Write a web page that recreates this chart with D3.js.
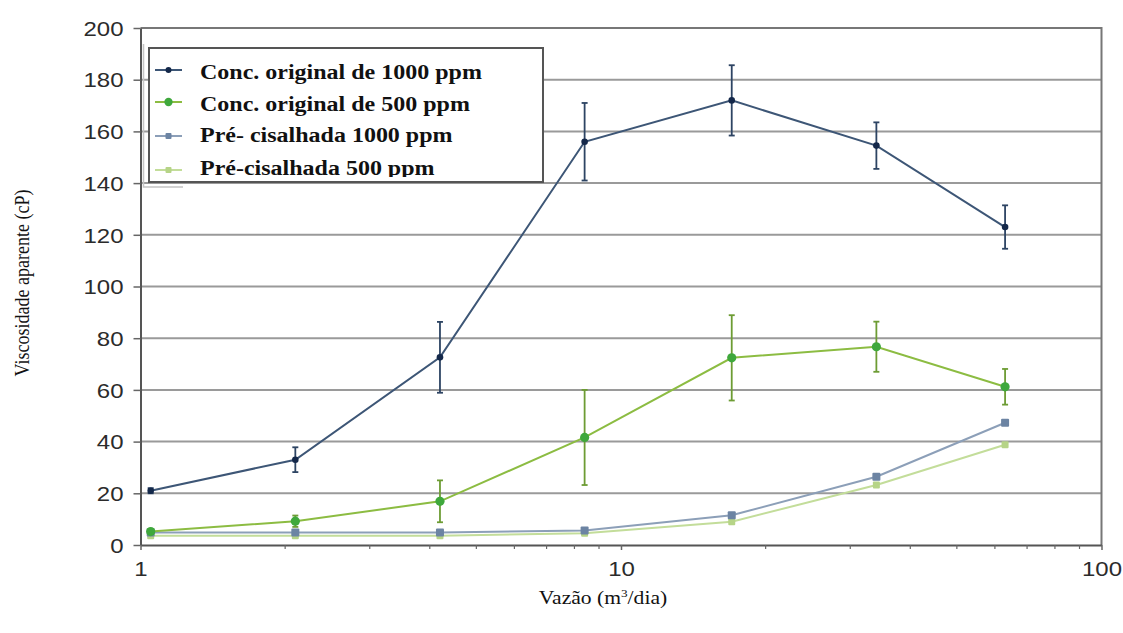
<!DOCTYPE html>
<html>
<head>
<meta charset="utf-8">
<script src="https://cdn.jsdelivr.net/npm/d3@7"></script>
<style>
  html, body { margin: 0; padding: 0; background: #fff; }
  svg { display: block; }
</style>
</head>
<body>
<svg id="chart" width="1123" height="633"></svg>
<script>
// ---- data ----
const flowRates = [1.05, 2.1, 4.2, 8.4, 17, 34, 63];
const orig1000 = [21, 33, 72.6, 156, 172, 154.5, 123];
const orig1000Err = [1, 4.8, 13.7, 15, 13.6, 9, 8.4];
const orig500 = [5.2, 9.2, 16.9, 41.6, 72.4, 76.7, 61.2];
const orig500Err = [1, 2.2, 8.1, 18.4, 16.5, 9.7, 6.9];
const pre1000 = [4.8, 4.8, 4.8, 5.6, 11.5, 26.4, 47.3];
const pre500 = [3.6, 3.6, 3.6, 4.5, 9, 23.2, 38.8];
const yTicks = [0, 20, 40, 60, 80, 100, 120, 140, 160, 180, 200];
const xTicks = [1, 10, 100];
const legendLabels = [
  "Conc. original de 1000 ppm",
  "Conc. original de 500 ppm",
  "Pré- cisalhada 1000 ppm",
  "Pré-cisalhada 500 ppm"
];
const yTitle = "Viscosidade aparente (cP)";

// ---- styles ----
const series = [
  { name: legendLabels[3], values: pre500, err: null, line: "#c3dd9a", mark: "#b6d487", shape: "square", size: 7 },
  { name: legendLabels[2], values: pre1000, err: null, line: "#8c9fb8", mark: "#6c84a3", shape: "square", size: 8 },
  { name: legendLabels[1], values: orig500, err: orig500Err, line: "#8cbc42", mark: "#3fa83c", errColor: "#6d9c34", shape: "circle", size: 4.6 },
  { name: legendLabels[0], values: orig1000, err: orig1000Err, line: "#3d5676", mark: "#14284a", errColor: "#2d4463", shape: "circle", size: 3.3 }
];

const svg = d3.select("#chart");
const SX = 1.2; // horizontal stretch of the reference text

const x = d3.scaleLog().domain([1, 100]).range([140.5, 1101.5]);
const y = d3.scaleLinear().domain([0, 200]).range([545, 28]);

// gridlines
svg.append("g").selectAll("line").data(yTicks.filter(d => d > 0 && d < 200)).join("line")
  .attr("x1", x(1)).attr("x2", x(100))
  .attr("y1", d => y(d)).attr("y2", d => y(d))
  .attr("stroke", "#9a9a9a").attr("stroke-width", 2);

// frame top & right
svg.append("path")
  .attr("d", `M${x(1)},${y(200)}H${x(100)}V${y(0)}`)
  .attr("fill", "none").attr("stroke", "#777").attr("stroke-width", 2);

// y axis
const yAxis = svg.append("g").attr("transform", `translate(${x(1)},0)`)
  .call(d3.axisLeft(y).tickValues(yTicks).tickSize(7).tickSizeOuter(0).tickPadding(10));
yAxis.select(".domain").attr("stroke", "#555").attr("stroke-width", 2);
yAxis.selectAll(".tick line").attr("stroke", "#666").attr("stroke-width", 1.5);
yAxis.selectAll(".tick text")
  .attr("font-family", "Liberation Sans, Arial, sans-serif")
  .attr("font-size", 20).attr("fill", "#2b2b2b")
  .attr("x", -17 / SX).attr("dy", "0.36em")
  .attr("transform", `scale(${SX},1)`);

// x axis (major)
const xAxis = svg.append("g").attr("transform", `translate(0,${y(0)})`)
  .call(d3.axisBottom(x).tickValues(xTicks).tickFormat(d3.format("d")).tickSize(5).tickSizeOuter(0));
xAxis.select(".domain").attr("stroke", "#555").attr("stroke-width", 2);
xAxis.selectAll(".tick line").attr("stroke", "#666").attr("stroke-width", 1.5);
xAxis.selectAll(".tick text")
  .attr("font-family", "Liberation Sans, Arial, sans-serif")
  .attr("font-size", 20).attr("fill", "#2b2b2b")
  .attr("y", 17).attr("transform", `scale(${SX},1)`);

// x minor ticks
const minor = [];
[1, 10].forEach(dec => { for (let k = 2; k <= 9; k++) minor.push(dec * k); });
svg.append("g").selectAll("line").data(minor).join("line")
  .attr("x1", d => x(d)).attr("x2", d => x(d))
  .attr("y1", y(0)).attr("y2", y(0) + 4)
  .attr("stroke", "#666").attr("stroke-width", 1.2);

// series
const line = d3.line().x((d, i) => x(flowRates[i])).y(d => y(d));
series.forEach(s => {
  const g = svg.append("g");
  g.append("path").datum(s.values).attr("d", line)
    .attr("fill", "none").attr("stroke", s.line).attr("stroke-width", 2);
  if (s.err) {
    const eg = g.append("g").attr("stroke", s.errColor).attr("stroke-width", 1.8);
    s.values.forEach((v, i) => {
      const cx = x(flowRates[i]);
      const top = y(v + s.err[i]), bot = y(v - s.err[i]);
      eg.append("line").attr("x1", cx).attr("x2", cx).attr("y1", top).attr("y2", bot);
      eg.append("line").attr("x1", cx - 3).attr("x2", cx + 3).attr("y1", top).attr("y2", top);
      eg.append("line").attr("x1", cx - 3).attr("x2", cx + 3).attr("y1", bot).attr("y2", bot);
    });
  }
  drawMarks(g, s, s.values.map((v, i) => [x(flowRates[i]), y(v)]));
});

function drawMarks(g, s, pts) {
  if (s.shape === "square") {
    g.selectAll(null).data(pts).join("rect")
      .attr("x", d => d[0] - s.size / 2).attr("y", d => d[1] - s.size / 2)
      .attr("width", s.size).attr("height", s.size).attr("rx", 1)
      .attr("fill", s.mark);
  } else {
    g.selectAll(null).data(pts).join("circle")
      .attr("cx", d => d[0]).attr("cy", d => d[1]).attr("r", s.size)
      .attr("fill", s.mark);
  }
}

// legend
const leg = svg.append("g");
leg.append("path").attr("d", "M143.5,44V187H183")
  .attr("fill", "none").attr("stroke", "#c4c4c4").attr("stroke-width", 1.5);
leg.append("rect").attr("x", 149).attr("y", 48).attr("width", 394).attr("height", 134)
  .attr("fill", "#fff").attr("stroke", "#555").attr("stroke-width", 2);
svg.append("defs").append("clipPath").attr("id", "legclip")
  .append("rect").attr("x", 150).attr("y", 49).attr("width", 392).attr("height", 128);
const legItems = leg.append("g").attr("clip-path", "url(#legclip)");
const legOrder = [series[3], series[2], series[1], series[0]];
const rowMarkY = [70, 102, 136, 170];
const rowTextY = [79, 111, 142, 175];
legOrder.forEach((s, i) => {
  const my = rowMarkY[i];
  legItems.append("line").attr("x1", 155).attr("x2", 182).attr("y1", my).attr("y2", my)
    .attr("stroke", s.line).attr("stroke-width", 2);
  drawMarks(legItems, Object.assign({}, s, { size: s.shape === "square" ? 6 : s.size * 0.9 }), [[168.5, my]]);
  legItems.append("text")
    .attr("transform", `translate(200,${rowTextY[i]}) scale(${SX},1)`)
    .attr("font-family", "Liberation Serif, Times New Roman, serif")
    .attr("font-weight", "bold").attr("font-size", 20).attr("fill", "#111")
    .text(legendLabels[i]);
});

// axis titles
svg.append("text")
  .attr("transform", `translate(29,283) scale(${SX},1) rotate(-90)`)
  .attr("text-anchor", "middle")
  .attr("font-family", "Liberation Serif, Times New Roman, serif")
  .attr("font-size", 18).attr("fill", "#111")
  .text(yTitle);

const xt = svg.append("text")
  .attr("transform", `translate(603,604) scale(${SX},1)`)
  .attr("text-anchor", "middle")
  .attr("font-family", "Liberation Serif, Times New Roman, serif")
  .attr("font-size", 18).attr("fill", "#111");
xt.append("tspan").text("Vazão (m");
xt.append("tspan").attr("font-size", 11).attr("dy", -7).text("3");
xt.append("tspan").attr("dy", 7).text("/dia)");
</script>
</body>
</html>
